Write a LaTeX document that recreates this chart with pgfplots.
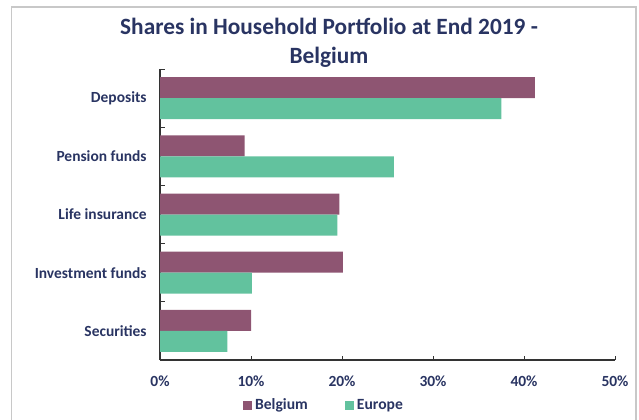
\documentclass[border=0pt]{standalone}
\usepackage{fontspec}
\setmainfont{Carlito}
\usepackage{pgfplots}
\pgfplotsset{compat=1.18}
\definecolor{bel}{RGB}{142,85,114}
\definecolor{eur}{RGB}{98,194,158}
\definecolor{navy}{RGB}{41,52,98}
\definecolor{frame}{RGB}{200,200,200}
\begin{document}
\begin{tikzpicture}
\useasboundingbox (0,0) rectangle (479.25pt,314.25pt);
\draw[frame,line width=1.2pt] (8.6pt,-2pt) -- (8.6pt,309pt) -- (477pt,309pt) -- (477pt,-2pt);
\node[anchor=base,text=navy,font=\fontsize{17.5}{20}\selectfont\bfseries,inner sep=0pt] at (246.75pt,288.75pt) {Shares in Household Portfolio at End 2019 -};
\node[anchor=base,text=navy,font=\fontsize{17.5}{20}\selectfont\bfseries,inner sep=0pt] at (246.75pt,267pt) {Belgium};
\begin{axis}[
  at={(120pt,44.25pt)}, anchor=south west,
  scale only axis, width=341.25pt, height=218.25pt,
  xbar, bar width=15.75pt,
  xmin=0, xmax=50, ymin=-0.5, ymax=4.5,
  axis lines*=left,
  axis line style={black!80, line width=0.8pt},
  xtick={0,10,20,30,40,50},
  xticklabels={0\%,10\%,20\%,30\%,40\%,50\%},
  ytick={0,1,2,3,4},
  yticklabels={Securities,Investment funds,Life insurance,Pension funds,Deposits},
  minor ytick={-0.5,0.5,1.5,2.5,3.5,4.5},
  major y tick style={draw=none},
  minor tick length=3.5pt,
  major tick length=3pt,
  tick align=inside,
  tick style={black!80, line width=0.6pt},
  ticklabel style={text=navy, font=\fontsize{11.6}{13}\selectfont\bfseries},
  yticklabel style={xshift=-6.5pt},
  xticklabel style={yshift=-8pt},
  legend style={at={(0.3615,-0.155)}, anchor=center, draw=none, fill=none,
    legend columns=2, font=\fontsize{11.7}{13}\selectfont\bfseries, text=navy,
    /tikz/every even column/.append style={column sep=26pt}},
  legend image code/.code={\fill[#1] (0pt,-3.4pt) rectangle (6.8pt,3.4pt);},
  clip=false,
]
\addplot[fill=bel, draw=none, bar shift=7.875pt] coordinates {(10.0,0) (20.1,1) (19.7,2) (9.3,3) (41.2,4)};
\addlegendentry{Belgium}
\addplot[fill=eur, draw=none, bar shift=-7.875pt] coordinates {(7.4,0) (10.1,1) (19.5,2) (25.7,3) (37.5,4)};
\addlegendentry{Europe}
\end{axis}
\end{tikzpicture}
\end{document}
